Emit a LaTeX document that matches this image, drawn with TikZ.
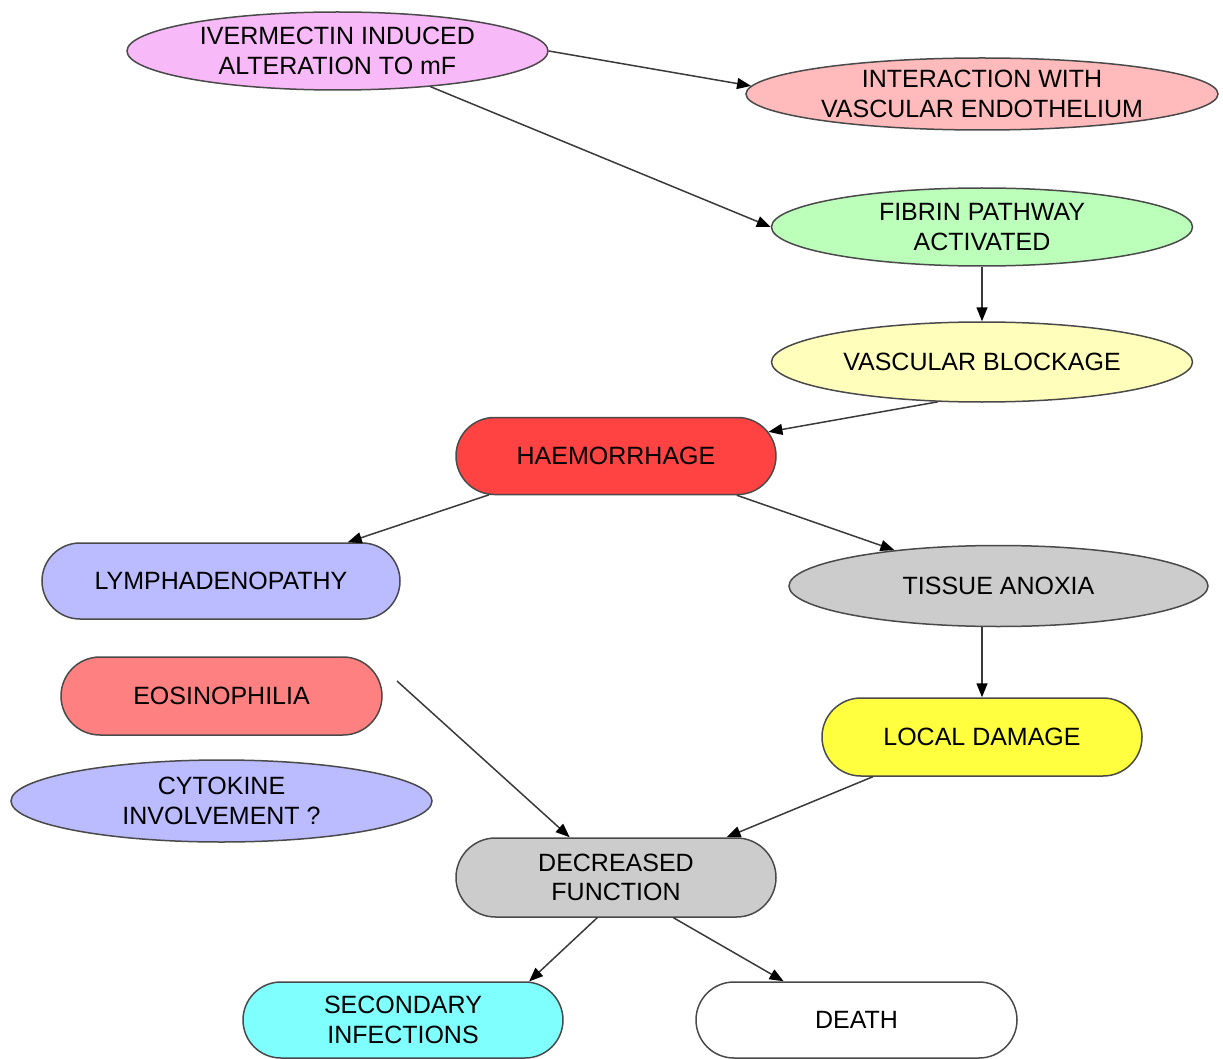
\documentclass[tikz,border=0pt]{standalone}
\usepackage{fontspec}
\setmainfont{Liberation Sans}
\usetikzlibrary{shapes.geometric,shapes.misc,arrows.meta}
\definecolor{cpink}{HTML}{F7B9F7}
\definecolor{csalmon}{HTML}{FFBBBB}
\definecolor{cgreen}{HTML}{BBFFBB}
\definecolor{cyellowl}{HTML}{FFFFBB}
\definecolor{cred}{HTML}{FF4242}
\definecolor{cblue}{HTML}{BBBBFF}
\definecolor{cgray}{HTML}{CCCCCC}
\definecolor{cpinkred}{HTML}{FF8080}
\definecolor{cyellow}{HTML}{FFFF40}
\definecolor{ccyan}{HTML}{80FFFF}
\definecolor{cborder}{HTML}{4A4A4A}
\definecolor{cline}{HTML}{3A3A3A}
\tikzset{
  base/.style={draw=cborder, line width=1.5pt, inner sep=0pt, align=center,
    font=\fontsize{25}{29.5}\selectfont, text=black},
  ell/.style={base, ellipse},
  pill/.style={base, rounded rectangle},
  conn/.style={draw=cline, line width=1.5pt, -{Triangle[length=14pt,width=11pt,fill=black,color=black]}}
}
\begin{document}
\begin{tikzpicture}[x=1pt,y=-1pt]
\useasboundingbox (0,0) rectangle (1223,1059);
\node[ell, fill=cpink, minimum width=421pt, minimum height=78pt] (ivm) at (337.5,51) {IVERMECTIN INDUCED\\ALTERATION TO mF};
\node[ell, fill=csalmon, minimum width=472pt, minimum height=72pt] (inter) at (982,94) {INTERACTION WITH\\VASCULAR ENDOTHELIUM};
\node[ell, fill=cgreen, minimum width=421pt, minimum height=78pt] (fibrin) at (982,227) {FIBRIN PATHWAY\\ACTIVATED};
\node[ell, fill=cyellowl, minimum width=421pt, minimum height=80pt] (vasc) at (982,362) {VASCULAR BLOCKAGE};
\node[pill, fill=cred, minimum width=320pt, minimum height=77pt] (haem) at (616,456) {HAEMORRHAGE};
\node[pill, fill=cblue, minimum width=358pt, minimum height=76pt] (lymph) at (221,581) {LYMPHADENOPATHY};
\node[ell, fill=cgray, minimum width=419pt, minimum height=81pt] (tissue) at (998.5,586) {TISSUE ANOXIA};
\node[pill, fill=cpinkred, minimum width=321pt, minimum height=78pt] (eos) at (221.5,696) {EOSINOPHILIA};
\node[pill, fill=cyellow, minimum width=320pt, minimum height=78pt] (local) at (982,737) {LOCAL DAMAGE};
\node[ell, fill=cblue, minimum width=421pt, minimum height=82pt] (cyto) at (221.5,801) {CYTOKINE\\INVOLVEMENT ?};
\node[pill, fill=cgray, minimum width=320pt, minimum height=79pt] (decr) at (616,877.5) {DECREASED\\FUNCTION};
\node[pill, fill=ccyan, minimum width=320pt, minimum height=76pt] (second) at (403,1020) {SECONDARY\\INFECTIONS};
\node[pill, fill=white, minimum width=321pt, minimum height=76pt] (death) at (856.5,1020) {DEATH};
\coordinate (eosout) at (397,681);

\draw[conn] (ivm.east) -- (inter.178);
\draw[conn] (ivm.-21) -- (fibrin.west);
\draw[conn] (fibrin.south) -- (vasc.north);
\draw[conn] (vasc.222) -- (haem.9);
\draw[conn] (haem.197) -- (lymph.17);
\draw[conn] (haem.-18) -- (tissue.161);
\draw[conn] (local.north |- tissue.south) -- (local.north);
\draw[conn] (eosout) -- (decr.139);
\draw[conn] (local.200) -- (decr.20);
\draw[conn] (decr.245) -- (second.17);
\draw[conn] (decr.-35) -- (death.152);
\end{tikzpicture}
\end{document}
